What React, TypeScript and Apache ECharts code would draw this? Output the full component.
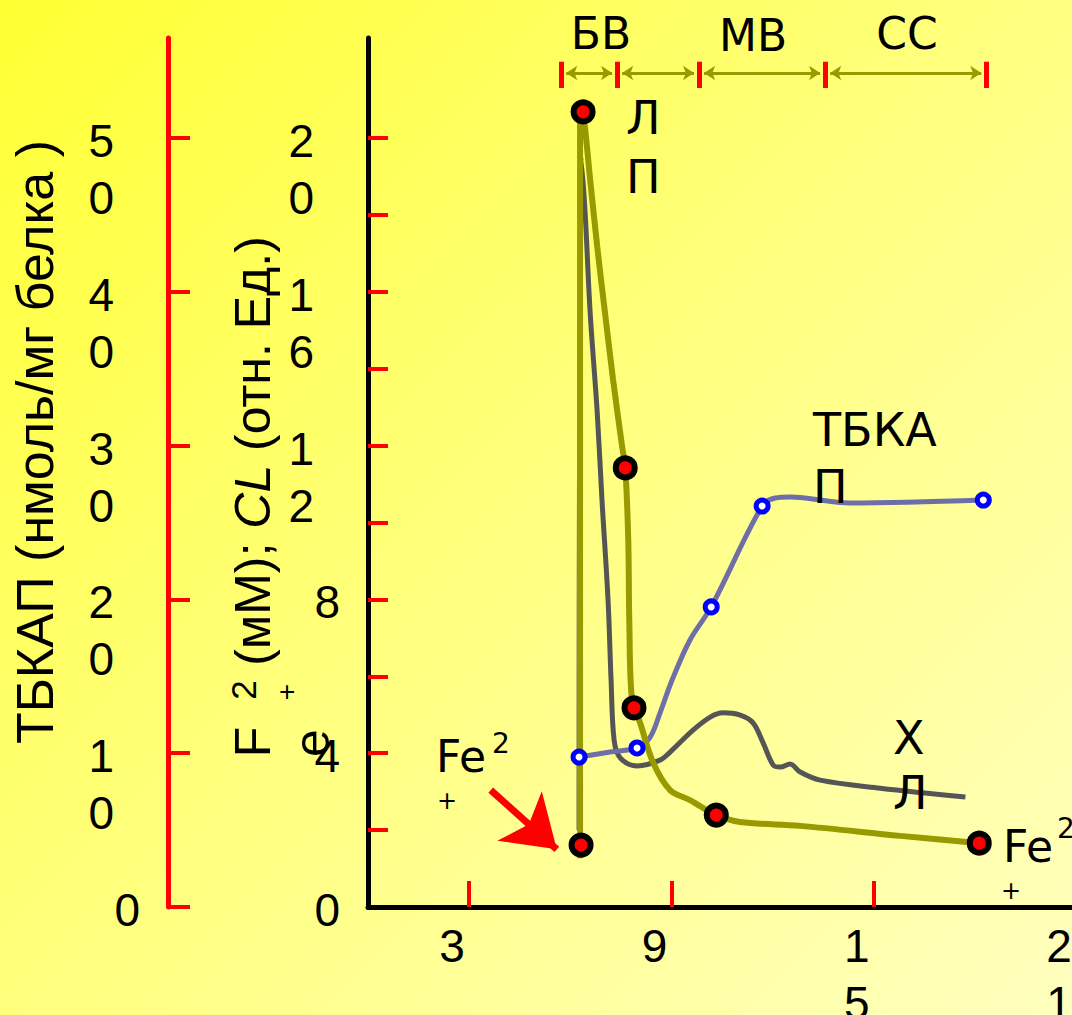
import React, { useEffect, useRef } from "react";
import * as echarts from "echarts";

// ---- axes ----
const xTickValues = [3, 9, 15, 21];
const innerTickValues = [2, 4, 6, 8, 10, 12, 14, 16, 18, 20];
const innerLabelValues = [0, 4, 8, 12, 16, 20];
const outerTickValues = [0, 10, 20, 30, 40, 50];
const INNER_MAX = 22.6;
const OUTER_MAX = 56.5;
// stacked labels hang below their tick by half a text line
const INNER_LABEL_SHIFT = 0.663;
const OUTER_LABEL_SHIFT = 1.658;

// ---- series (x: time, y: inner axis units for ЛП / ХЛ, outer axis for ТБКАП) ----
const lpCurve = [
  [6.29, 1.27], [6.29, 20.73], [6.38, 20.65], [6.59, 18.91], [6.8, 17.17], [7.03, 15.45],
  [7.27, 13.71], [7.54, 11.96], [7.63, 11.44], [7.72, 9.54], [7.75, 7.46], [7.83, 5.38],
  [8.07, 4.79], [8.46, 3.75], [8.96, 3.04], [9.55, 2.78], [10.33, 2.39], [11.04, 2.21],
  [12.82, 2.11], [15.79, 1.85], [18.16, 1.66],
];
const lpMarkers = [
  [6.32, 1.61], [6.38, 20.68], [7.63, 11.42], [7.89, 5.18], [10.33, 2.39], [18.13, 1.66],
];
const clCurve = [
  [6.26, 2.0], [6.32, 19.51], [6.44, 18.05], [6.59, 15.45], [6.8, 12.85], [6.94, 10.59],
  [7.12, 7.98], [7.21, 5.9], [7.3, 4.34], [7.48, 3.88], [7.98, 3.67], [8.66, 3.82],
  [8.96, 4.03], [9.64, 4.6], [10.15, 4.94], [10.53, 5.05], [11.04, 4.99], [11.42, 4.79],
  [11.72, 4.27], [12.02, 3.69], [12.23, 3.64], [12.52, 3.72], [12.82, 3.51], [13.41, 3.3],
  [15.19, 3.09], [17.72, 2.86],
];
const tbkaCurve = [
  [6.26, 9.75], [7.18, 10.08], [7.98, 10.34], [8.37, 11.05], [8.66, 12.61], [9.02, 14.76],
  [9.55, 17.36], [10.18, 19.51], [11.69, 26.07], [12.08, 26.59], [12.52, 26.66],
  [14.3, 26.27], [18.25, 26.46],
];
const tbkaMarkers = [
  [6.26, 9.75], [7.98, 10.34], [10.18, 19.51], [11.69, 26.07], [18.25, 26.46],
];

// ---- phase bar (БВ / МВ / СС) ----
const phaseBounds = [5.73, 7.39, 9.82, 13.56, 18.34];
const phaseBarTop = 21.98;
const phaseBarBottom = 21.3;
const phaseArrowY = 21.69;

// ---- Fe2+ pointer ----
const pointerFrom = [3.64, 3.04];
const pointerTo = [5.6, 1.5];

const LABEL_FONT = "Liberation Sans";
const ANNO_FONT = "DejaVu Sans";

const stackLabel = (v: number) => {
  const s = String(v);
  if (s.length === 1) return s;
  return s.split("").map((c) => `{p|${c}}`).join("\n");
};

function buildOption() {
  const richP = {
    p: { fontSize: 46, fontFamily: LABEL_FONT, lineHeight: 57, padding: [0, 26, 0, 0], color: "#000" },
  };
  const t = (
    text: string,
    x: number,
    y: number,
    size: number,
    opts: any = {}
  ) => ({
    type: "text",
    x,
    y,
    rotation: opts.rotation || 0,
    z: 50,
    style: {
      text,
      fontSize: size,
      fontFamily: opts.font || ANNO_FONT,
      fill: "#000",
      align: opts.align || "left",
      verticalAlign: "middle",
      lineHeight: opts.lineHeight,
      rich: opts.rich,
    },
  });
  const rot = Math.PI / 2;

  const axisBase = (offset: number, min: number, max: number, color: string, tickLen: number, ticks: number[]) => ({
    type: "value",
    position: "left",
    offset,
    min,
    max,
    axisLine: { show: true, onZero: false, lineStyle: { color, width: 5 } },
    axisTick: { show: true, inside: true, length: tickLen, customValues: ticks, lineStyle: { color: "#ff0000", width: 4 } },
    axisLabel: { show: false },
    splitLine: { show: false },
  });
  const labelAxis = (offset: number, min: number, max: number, labels: number[]) => ({
    type: "value",
    position: "left",
    offset,
    min,
    max,
    axisLine: { show: false, onZero: false },
    axisTick: { show: false },
    splitLine: { show: false },
    axisLabel: {
      customValues: labels,
      showMinLabel: true,
      showMaxLabel: true,
      formatter: stackLabel,
      fontSize: 46,
      fontFamily: LABEL_FONT,
      color: "#000",
      lineHeight: 57,
      margin: 28,
      verticalAlign: "top",
      rich: richP,
    },
  });

  return {
    animation: false,
    backgroundColor: "transparent",
    grid: { left: 368, top: 38, right: 4, bottom: 108, containLabel: false, outerBoundsMode: "none" },
    xAxis: {
      type: "value",
      min: 0,
      max: 21,
      axisLine: { onZero: false, lineStyle: { color: "#000", width: 5 } },
      axisTick: { inside: true, length: 26, customValues: xTickValues, lineStyle: { color: "#ff0000", width: 4 } },
      axisLabel: {
        customValues: xTickValues,
        showMinLabel: true,
        showMaxLabel: true,
        formatter: (v: number) => String(v).split("").join("\n"),
        fontSize: 46,
        fontFamily: LABEL_FONT,
        color: "#000",
        lineHeight: 57,
        margin: 10,
        padding: [0, 34, 0, 0],
      },
      splitLine: { show: false },
    },
    yAxis: [
      axisBase(0, 0, INNER_MAX, "#000", 20, innerTickValues),
      axisBase(200, 0, OUTER_MAX, "#ff0000", 22, outerTickValues),
      labelAxis(0, -INNER_LABEL_SHIFT, INNER_MAX - INNER_LABEL_SHIFT, innerLabelValues),
      labelAxis(200, -OUTER_LABEL_SHIFT, OUTER_MAX - OUTER_LABEL_SHIFT, outerTickValues),
    ],
    series: [
      {
        name: "ХЛ",
        type: "line",
        data: clCurve,
        smooth: 0.35,
        showSymbol: false,
        z: 2,
        lineStyle: { color: "#555555", width: 5 },
      },
      {
        name: "ТБКАП",
        type: "line",
        yAxisIndex: 1,
        data: tbkaCurve,
        smooth: 0.35,
        showSymbol: false,
        z: 3,
        lineStyle: { color: "#6e6ea8", width: 5 },
      },
      {
        name: "ЛП",
        type: "line",
        data: lpCurve,
        smooth: 0.35,
        showSymbol: false,
        z: 4,
        lineStyle: { color: "#999900", width: 6 },
      },
      {
        name: "phaseArrows",
        type: "lines",
        coordinateSystem: "cartesian2d",
        z: 5,
        symbol: ["arrow", "arrow"],
        symbolSize: 11,
        lineStyle: { color: "#999900", width: 3, opacity: 1 },
        data: phaseBounds.slice(0, -1).map((b, i) => ({
          coords: [[b + 0.15, phaseArrowY], [phaseBounds[i + 1] - 0.15, phaseArrowY]],
        })),
      },
      {
        name: "phaseBars",
        type: "lines",
        coordinateSystem: "cartesian2d",
        z: 6,
        symbol: "none",
        lineStyle: { color: "#ff0000", width: 5, opacity: 1 },
        data: phaseBounds.map((b) => ({ coords: [[b, phaseBarTop], [b, phaseBarBottom]] })),
      },
      {
        name: "pointer",
        type: "lines",
        coordinateSystem: "cartesian2d",
        z: 7,
        symbol: ["none", "arrow"],
        symbolSize: 50,
        lineStyle: { color: "#ff0000", width: 7, opacity: 1 },
        data: [{ coords: [pointerFrom, pointerTo] }],
      },
      {
        name: "ЛП точки",
        type: "scatter",
        data: lpMarkers,
        symbol: "circle",
        symbolSize: 19,
        z: 10,
        itemStyle: { color: "#ff0000", borderColor: "#000", borderWidth: 6, opacity: 1 },
      },
      {
        name: "ТБКАП точки",
        type: "scatter",
        yAxisIndex: 1,
        data: tbkaMarkers,
        symbol: "circle",
        symbolSize: 12,
        z: 10,
        itemStyle: { color: "#ffffff", borderColor: "#0000ff", borderWidth: 5, opacity: 1 },
      },
    ],
    graphic: [
      // axis titles
      t("ТБКАП (нмоль/мг белка )", 35, 442, 52, { rotation: rot, align: "center", font: LABEL_FONT }),
      t("(мМ); {i|CL} (отн. Ед.)", 253, 451, 50, {
        rotation: rot,
        align: "center",
        font: LABEL_FONT,
        rich: { i: { fontStyle: "italic", fontSize: 50, fontFamily: LABEL_FONT } },
      }),
      t("F", 253, 742, 50, { rotation: rot, align: "center", font: LABEL_FONT }),
      t("2", 243, 690, 35, { rotation: rot, align: "center", font: LABEL_FONT }),
      t("+", 286, 692, 28, { rotation: rot, align: "center", font: LABEL_FONT }),
      t("e", 312, 743, 50, { rotation: rot, align: "center", font: LABEL_FONT }),
      // phases
      t("БВ", 601, 33, 44, { align: "center" }),
      t("МВ", 753, 35, 44, { align: "center" }),
      t("СС", 907, 33, 44, { align: "center" }),
      // curve labels
      t("Л\nП", 626, 147, 46, { lineHeight: 59 }),
      t("ТБКА\nП", 813, 458, 46, { lineHeight: 57 }),
      t("Х\nЛ", 893, 765, 46, { lineHeight: 55 }),
      // Fe2+ annotations
      t("Fe", 436, 756, 44),
      t("2", 492, 743, 28),
      t("+", 437, 801, 24),
      t("Fe", 1003, 846, 44),
      t("2", 1057, 828, 28),
      t("+", 1001, 891, 24),
    ],
  };
}

export default function App() {
  const ref = useRef<HTMLDivElement>(null);
  useEffect(() => {
    if (!ref.current) return;
    const chart = echarts.init(ref.current, undefined, { renderer: "svg" });
    chart.setOption(buildOption() as any);
    return () => chart.dispose();
  }, []);
  return (
    <div
      style={{
        position: "absolute",
        left: 0,
        top: 0,
        width: 1072,
        height: 1015,
        overflow: "hidden",
        background: "linear-gradient(135deg, #ffff33 0%, #ffff80 50%, #ffffc0 100%)",
      }}
    >
      <div ref={ref} style={{ width: 1080, height: 1015 }} />
    </div>
  );
}
